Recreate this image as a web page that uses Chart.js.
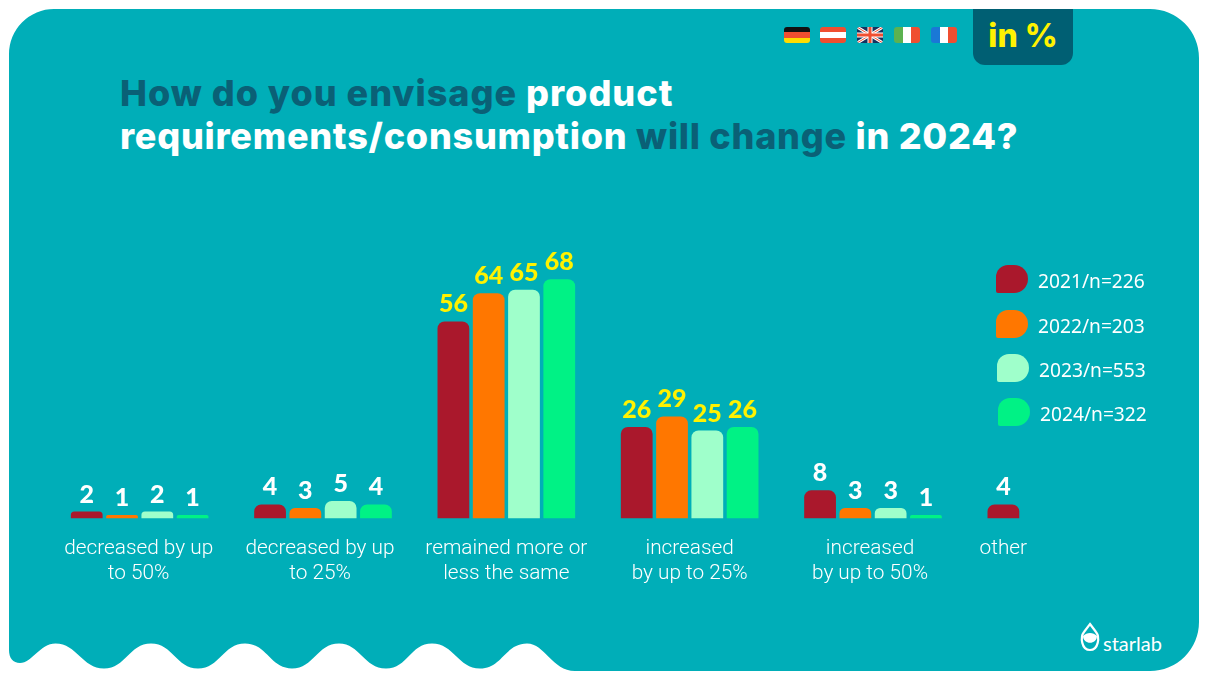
<!DOCTYPE html>
<html>
<head>
<meta charset="utf-8">
<script src="https://cdn.jsdelivr.net/npm/chart.js@4"></script>
<style>
  html, body { margin: 0; padding: 0; background: #fff; }
  #page { position: relative; width: 1210px; height: 680px; overflow: hidden; }
  #page > * { position: absolute; }
  #panel { left: 0; top: 0; }
  #dashboardChart { left: 0; top: 0; }
  .title { left: 120px; white-space: nowrap; color: #fff; font: 800 36px Inter, sans-serif; letter-spacing: 0.75px; line-height: 44px; }
  .title b { color: #0a6076; font-weight: 800; }
  #badge { left: 973px; top: 9px; width: 100px; height: 56px; background: #005f73; border-radius: 0 0 12px 12px;
           color: #fff200; font: 800 32px Inter, sans-serif; line-height: 54px; text-align: center; }
  .flag { top: 27px; width: 26px; height: 16px; border-radius: 3px; overflow: hidden; }
  #logo { left: 1103px; top: 629px; color: #fff; font: 400 20px Lato, sans-serif; line-height: 28px; }
</style>
</head>
<body>
<div id="page">
  <svg id="panel" width="1210" height="680">
    <path fill="#00aeb8" d="M54 9H1150A49 49 0 0 1 1199 58V622A49 49 0 0 1 1150 671H575
      C552 671 545 643.5 527 643.5C505 643.5 502 668.5 480 668.5C458 668.5 454 643.5 432 643.5
      C410 643.5 408 668.5 386 668.5C364 668.5 360 643.5 339 643.5C317 643.5 314 668.5 292 668.5
      C270 668.5 267 643.5 245 643.5C223 643.5 220 668.5 198 668.5C176 668.5 173 643.5 151 643.5
      C129 643.5 126 668.5 104 668.5C82 668.5 77 643.5 55.5 643.5C40 643.5 32 663 20 663
      C13 663 9 658 9 650V54A45 45 0 0 1 54 9Z"/>
    <path fill="none" stroke="#fff" stroke-width="2.2" d="M1090 624L1096 632C1100 637 1098.5 650 1090 650C1081.5 650 1080 637 1084 632Z"/>
    <path fill="#fff" d="M1083 636C1087 632 1093 632 1097 636C1097 645 1083 645 1083 636Z"/>
  </svg>

  <div class="title" style="top:71px;letter-spacing:1px"><b>How do you envisage</b> product</div>
  <div class="title" style="top:114px">requirements/consumption <b>will change</b> in 2024?</div>

  <div class="flag" style="left:784px;background:linear-gradient(#111 33%,#f04e30 33% 66%,#ffdc00 66%)"></div>
  <div class="flag" style="left:820px;background:linear-gradient(#f04e30 33%,#fff 33% 66%,#f04e30 66%)"></div>
  <svg class="flag" style="left:857px" viewBox="0 0 26 16">
    <rect width="26" height="16" fill="#16335f"/>
    <path d="M0 0L26 16M26 0L0 16" stroke="#fff" stroke-width="3"/>
    <path d="M0 0L26 16M26 0L0 16" stroke="#f04e30" stroke-width="1"/>
    <path d="M13 0V16M0 8H26" stroke="#fff" stroke-width="5"/>
    <path d="M13 0V16M0 8H26" stroke="#f04e30" stroke-width="3"/>
  </svg>
  <div class="flag" style="left:894px;background:linear-gradient(90deg,#5cb250 33%,#fff 33% 66%,#f04e30 66%)"></div>
  <div class="flag" style="left:931px;background:linear-gradient(90deg,#1a78d6 33%,#fff 33% 66%,#f04e30 66%)"></div>
  <div id="badge">in %</div>
  <div id="logo">starlab</div>

  <canvas id="dashboardChart" width="1210" height="680"></canvas>
</div>

<script>
var categories = [
  ['decreased by up', 'to 50%'],
  ['decreased by up', 'to 25%'],
  ['remained more or', 'less the same'],
  ['increased', 'by up to 25%'],
  ['increased', 'by up to 50%'],
  ['other']
];
var seriesNames = ['2021/n=226', '2022/n=203', '2023/n=553', '2024/n=322'];
var values2021 = [2, 4, 56, 26, 8, 4];
var values2022 = [1, 3, 64, 29, 3, null];
var values2023 = [2, 5, 65, 25, 3, null];
var values2024 = [1, 4, 68, 26, 1, null];

var seriesColors = ['#aa182c', '#ff7700', '#9fffcb', '#00f285'];
var allValues = [values2021, values2022, values2023, values2024];

// the reference nudges a few labels, "other" sits under its single bar
var labelShift = [-1, -3, 0, 0, -3, -53];
var legendSpots = [[996, 265], [996, 310], [997, 354], [998, 398]];

var barLabels = {
  id: 'barLabels',
  afterDatasetsDraw(chart) {
    var ctx = chart.ctx;
    ctx.save();
    ctx.textAlign = 'center';
    ctx.textBaseline = 'middle';
    ctx.font = '900 25px Lato, sans-serif';
    chart.data.datasets.forEach((ds, i) => {
      chart.getDatasetMeta(i).data.forEach((bar, j) => {
        if (ds.data[j] == null) return;
        ctx.fillStyle = ds.data[j] >= 10 ? '#fff200' : '#ffffff';
        ctx.fillText(ds.data[j], bar.x, bar.y - 17);
      });
    });
    ctx.restore();
  }
};

var categoryLabels = {
  id: 'categoryLabels',
  afterDraw(chart) {
    var ctx = chart.ctx, x = chart.scales.x;
    ctx.save();
    ctx.fillStyle = '#fff';
    ctx.textAlign = 'center';
    ctx.textBaseline = 'middle';
    ctx.font = '300 20.8px Roboto, sans-serif';
    categories.forEach((lines, i) => {
      lines.forEach((line, k) => {
        ctx.fillText(line, x.getPixelForTick(i) + labelShift[i], 549 + k * 24.5);
      });
    });
    ctx.restore();
  }
};

var sideLegend = {
  id: 'sideLegend',
  afterDraw(chart) {
    var ctx = chart.ctx;
    ctx.save();
    ctx.textBaseline = 'middle';
    ctx.font = '400 19.2px "Noto Sans", sans-serif';
    chart.data.datasets.forEach((ds, i) => {
      var spot = legendSpots[i];
      ctx.fillStyle = ds.backgroundColor;
      ctx.beginPath();
      ctx.roundRect(spot[0], spot[1], 32, 28, [12, 14, 14, 2]);
      ctx.fill();
      ctx.fillStyle = '#fff';
      ctx.fillText(ds.label, spot[0] + 42, spot[1] + 18);
    });
    ctx.restore();
  }
};

new Chart(document.getElementById('dashboardChart'), {
  type: 'bar',
  plugins: [barLabels, categoryLabels, sideLegend],
  data: {
    labels: categories,
    datasets: seriesNames.map((name, i) => ({
      label: name,
      data: allValues[i],
      backgroundColor: seriesColors[i],
      borderRadius: { topLeft: 7, topRight: 7, bottomLeft: 0, bottomRight: 0 },
      borderSkipped: false,
      categoryPercentage: 0.77,
      barPercentage: 0.9
    }))
  },
  options: {
    responsive: false,
    animation: false,
    layout: { padding: { left: 48, right: 62, top: 166.5, bottom: 161.5 } },
    plugins: { legend: { display: false }, title: { display: false }, tooltip: { enabled: false } },
    scales: {
      x: { display: false },
      y: { display: false, min: 0, max: 100 }
    }
  }
});
</script>
</body>
</html>
